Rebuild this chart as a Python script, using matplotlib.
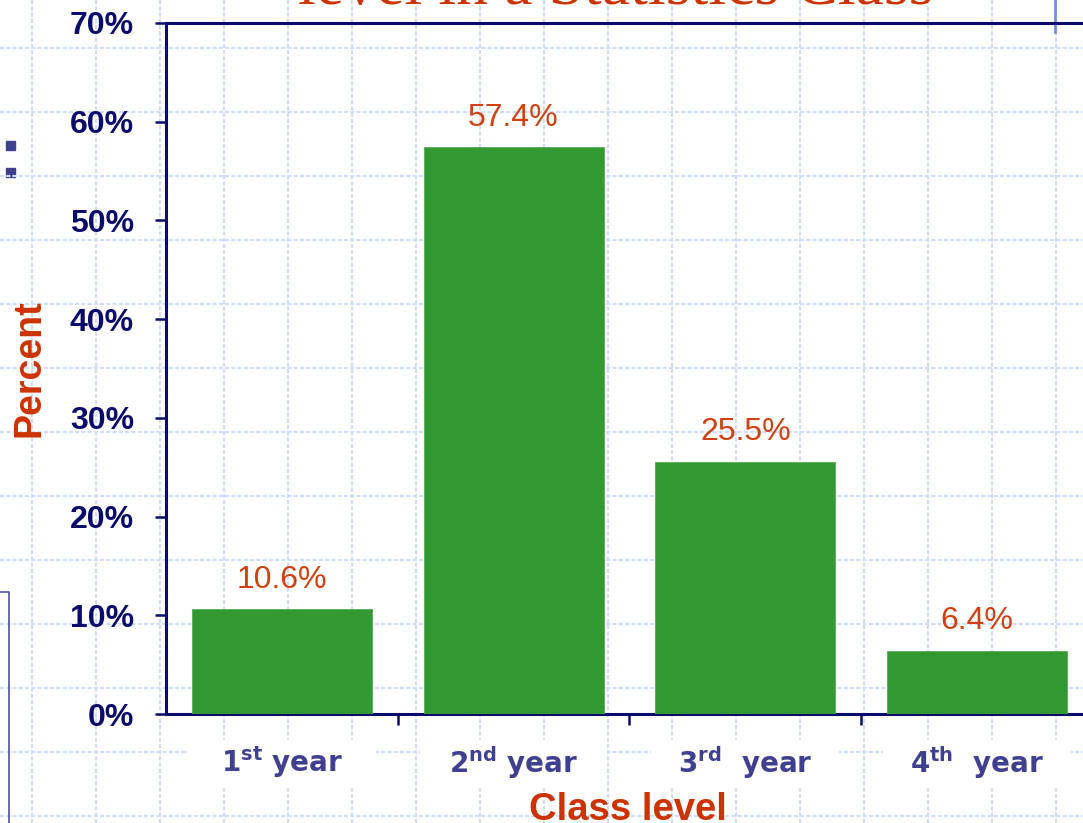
import matplotlib.pyplot as plt
from matplotlib import transforms
from matplotlib.patches import Rectangle

plt.rcParams['font.family'] = ['Liberation Sans', 'DejaVu Sans']
plt.rcParams['mathtext.fontset'] = 'custom'
plt.rcParams['mathtext.rm'] = 'DejaVu Sans:bold'
plt.rcParams['mathtext.it'] = 'DejaVu Sans:bold'
plt.rcParams['mathtext.bf'] = 'DejaVu Sans:bold'

# Datos: distribución por nivel de curso
niveles = ['1$^{st}$ year', '2$^{nd}$ year', '3$^{rd}$  year', '4$^{th}$  year']
porcentajes = [10.6, 57.4, 25.5, 6.4]
ticks_y = [0, 10, 20, 30, 40, 50, 60, 70]
titulo = 'level in a Statistics Class'

azul_oscuro = '#0b0b6b'
azul_etiqueta = '#404090'
rojo = '#cc3300'
verde = '#339933'

W, H = 1083, 823
fig = plt.figure(figsize=(W / 100, H / 100), dpi=100)
fig.patch.set_facecolor('white')

# Fondo de la diapositiva: cuadrícula punteada
fondo = fig.add_axes([0, 0, 1, 1], zorder=0)
fondo.set_xlim(0, W)
fondo.set_ylim(H, 0)
fondo.axis('off')
for x in range(32, W, 64):
    fondo.axvline(x, color='#cfdcf8', lw=1.5, ls=(0, (2, 1)))
for y in range(48, H, 64):
    fondo.axhline(y, color='#cfdcf8', lw=1.5, ls=(0, (2, 1)))
# adornos de la diapositiva
fondo.plot([1055, 1055], [0, 32], color='#7090e8', lw=2)
fondo.plot([0, 9, 9], [592, 592, H], color='#5050a0', lw=1.2)
for y in (145, 172):
    fondo.add_patch(Rectangle((6, y - 4.5), 9, 9, color='#404090'))
fondo.text(616, 4, titulo, ha='center', va='baseline', fontsize=46,
           color=rojo, family='Liberation Serif')

# Gráfico de barras
ax = fig.add_axes([166 / W, 1 - 714 / H, 4 * 231.7 / W, 691 / H], zorder=1)
ax.patch.set_alpha(0)
x = range(len(porcentajes))
barras = ax.bar(x, porcentajes, width=0.777, color=verde, edgecolor='#55aa55',
                linewidth=0.6, zorder=3)
for barra, valor in zip(barras, porcentajes):
    ax.annotate('{}%'.format(valor),
                xy=(barra.get_x() + barra.get_width() / 2, valor),
                xytext=(0, 21.5), textcoords='offset points',
                ha='center', va='center', fontsize=23, color='#d04010')

ax.set_xlim(-0.5, 3.5)
ax.set_ylim(0, 70)
ax.set_yticks(ticks_y, ['{}%'.format(t) for t in ticks_y])
ax.set_xticks(list(x), niveles)
ax.set_xticks([0.5, 1.5, 2.5], minor=True)

for lado in ['left', 'bottom', 'top']:
    ax.spines[lado].set_color(azul_oscuro)
    ax.spines[lado].set_linewidth(2.2)
ax.spines['right'].set_visible(False)

ax.tick_params(axis='y', length=8, width=1.8, color=azul_oscuro, pad=15,
               labelsize=23, labelcolor=azul_oscuro)
for etiqueta in ax.get_yticklabels():
    etiqueta.set_fontweight('bold')
ax.tick_params(axis='x', which='major', length=0, pad=22, labelsize=20,
               labelcolor=azul_etiqueta)
ax.tick_params(axis='x', which='minor', length=8, width=1.8, color=azul_oscuro)
for etiqueta in ax.get_xticklabels():
    etiqueta.set_fontweight('bold')
    etiqueta.set_family('DejaVu Sans')

# recuadros blancos detrás de las etiquetas del eje x
trans = transforms.blended_transform_factory(ax.transData, fig.transFigure)
for i in x:
    ax.add_patch(Rectangle((i - 0.405, 1 - 788 / H), 0.81, 48 / H,
                           transform=trans, facecolor='white',
                           edgecolor='none', clip_on=False, zorder=0))

ax.set_xlabel('Class level', fontsize=27.5, fontweight='bold', color=rojo)
ax.xaxis.label.set_va('baseline')
ax.xaxis.set_label_coords(628 / W, 1 - 820 / H, transform=fig.transFigure)
ax.set_ylabel('Percent', fontsize=27, fontweight='bold', color=rojo)
ax.yaxis.set_label_coords(48 / W, 1 - 368 / H, transform=fig.transFigure)

fig.savefig('out.png', dpi=100)
